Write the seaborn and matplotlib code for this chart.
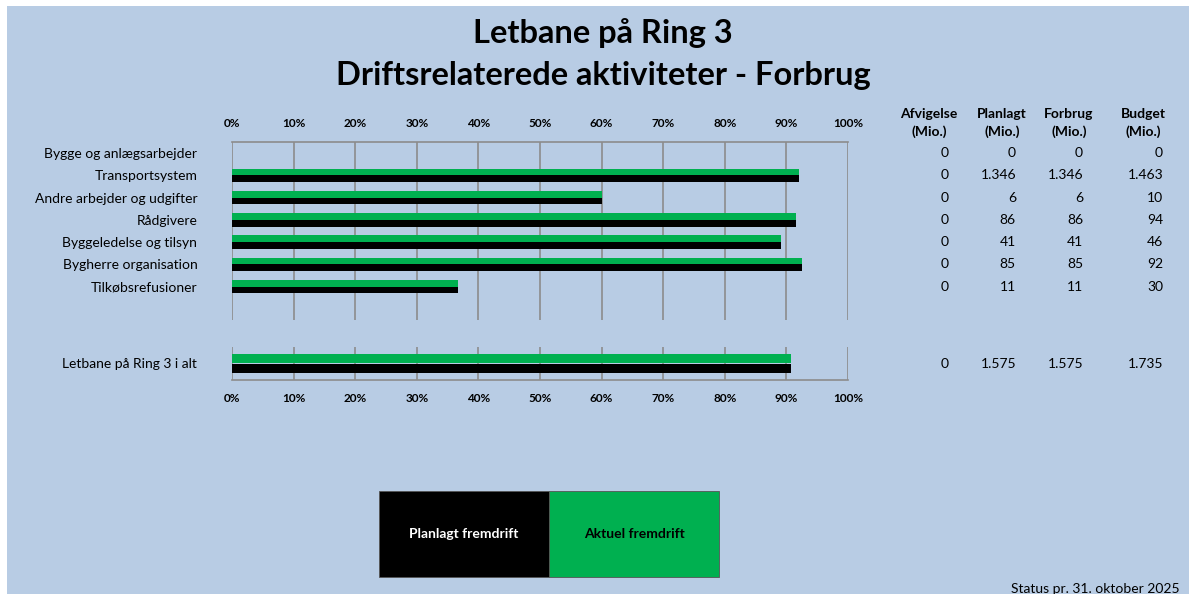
import numpy as np
import pandas as pd
import matplotlib
matplotlib.use("Agg")
import matplotlib.pyplot as plt
import matplotlib.transforms as mtransforms
from matplotlib.patches import Rectangle
import seaborn as sns

# Data
categories = [
    "Bygge og anlægsarbejder",
    "Transportsystem",
    "Andre arbejder og udgifter",
    "Rådgivere",
    "Byggeledelse og tilsyn",
    "Bygherre organisation",
    "Tilkøbsrefusioner",
]
planlagt_pct = [0, 92.0, 60.0, 91.5, 89.2, 92.5, 36.7]
aktuel_pct = [0, 92.0, 60.0, 91.5, 89.2, 92.5, 36.7]

total_label = ["Letbane på Ring 3 i alt"]
total_planlagt_pct = [90.8]
total_aktuel_pct = [90.8]

afvigelse = [0, 0, 0, 0, 0, 0, 0]
planlagt_mio = [0, 1346, 6, 86, 41, 85, 11]
forbrug_mio = [0, 1346, 6, 86, 41, 85, 11]
budget_mio = [0, 1463, 10, 94, 46, 92, 30]
total_row = [0, 1575, 1575, 1735]

col_headers = ["Afvigelse\n(Mio.)", "Planlagt\n(Mio.)", "Forbrug\n(Mio.)", "Budget\n(Mio.)"]
x_ticks = [0, 10, 20, 30, 40, 50, 60, 70, 80, 90, 100]

BG = "#b8cce4"
GREEN = "#00b050"
GRID = "#8c8c8c"

sns.set_theme(style="white")
plt.rcParams["font.family"] = ["Lato", "DejaVu Sans"]
plt.rcParams["text.color"] = "black"


def fmt(v):
    return f"{v:,}".replace(",", ".")


def long_df(labels, akt, plan):
    return pd.DataFrame({
        "kategori": labels * 2,
        "pct": list(akt) + list(plan),
        "serie": ["Aktuel fremdrift"] * len(labels) + ["Planlagt fremdrift"] * len(labels),
    })


fig = plt.figure(figsize=(11.89, 5.94), dpi=100, facecolor="white")
fig.patches.append(Rectangle((7 / 1189, 0), 1 - 7 / 1189, 1 - 6 / 594,
                             transform=fig.transFigure, facecolor=BG, edgecolor="none", zorder=-10))

ax1 = fig.add_axes([232 / 1189, 1 - 320 / 594, 616 / 1189, 178 / 594])
ax2 = fig.add_axes([232 / 1189, 1 - 380 / 594, 616 / 1189, 33 / 594])

palette = {"Aktuel fremdrift": GREEN, "Planlagt fremdrift": "black"}
order = ["Aktuel fremdrift", "Planlagt fremdrift"]

sns.barplot(data=long_df(categories, aktuel_pct, planlagt_pct), x="pct", y="kategori",
            hue="serie", hue_order=order, palette=palette, orient="h", width=0.6,
            saturation=1, legend=False, ax=ax1, zorder=3, linewidth=0)
sns.barplot(data=long_df(total_label, total_aktuel_pct, total_planlagt_pct), x="pct", y="kategori",
            hue="serie", hue_order=order, palette=palette, orient="h", width=0.58,
            saturation=1, legend=False, ax=ax2, zorder=3, linewidth=0)

ax1.set_ylim(len(categories) + 0.5, -0.5)
ax2.set_ylim(0.5, -0.5)

for ax in (ax1, ax2):
    ax.set_facecolor("none")
    ax.set_xlim(0, 100)
    ax.set_xticks(x_ticks)
    ax.set_xticklabels([f"{t}%" for t in x_ticks], fontsize=8.5, fontweight="bold", color="black")
    ax.set_xlabel("")
    ax.set_ylabel("")
    ax.grid(axis="x", color=GRID, linewidth=1.2, zorder=0)
    ax.grid(axis="y", visible=False)
    ax.tick_params(axis="both", length=0)
    ax.tick_params(axis="y", pad=25, labelsize=10, labelcolor="black")
    ax.tick_params(axis="x", pad=9)
    for s in ax.spines.values():
        s.set_visible(False)

ax1.xaxis.tick_top()
ax1.spines["top"].set_visible(True)
ax1.spines["top"].set_color(GRID)
ax1.spines["top"].set_linewidth(1.2)
ax2.spines["bottom"].set_visible(True)
ax2.spines["bottom"].set_color(GRID)
ax2.spines["bottom"].set_linewidth(1.2)

# Title
fig.text(603 / 1189, 1 - 33 / 594, "Letbane på Ring 3", ha="center", va="center",
         fontsize=23.5, fontweight="bold", color="black")
fig.text(603 / 1189, 1 - 76 / 594, "Driftsrelaterede aktiviteter - Forbrug", ha="center", va="center",
         fontsize=23.5, fontweight="bold", color="black")

# Table to the right
header_x = [929, 1002, 1069, 1143]
value_right_x = [949, 1016, 1083, 1163]
for hx, h in zip(header_x, col_headers):
    fig.text(hx / 1189, 1 - 123 / 594, h, ha="center", va="center", fontsize=10,
             fontweight="bold", linespacing=1.55)

cols = [afvigelse, planlagt_mio, forbrug_mio, budget_mio]
trans1 = mtransforms.blended_transform_factory(fig.transFigure, ax1.transData)
for j, col in enumerate(cols):
    for i, v in enumerate(col):
        fig.text(value_right_x[j] / 1189, i, fmt(v), transform=trans1,
                 ha="right", va="center", fontsize=10)
trans2 = mtransforms.blended_transform_factory(fig.transFigure, ax2.transData)
for j, v in enumerate(total_row):
    fig.text(value_right_x[j] / 1189, 0, fmt(v), transform=trans2,
             ha="right", va="center", fontsize=10)

# Legend boxes
box_w = 170 / 1189
box_h = 86 / 594
box_y = 1 - 577 / 594
for k, (lab, fc, tc) in enumerate([("Planlagt fremdrift", "black", "white"),
                                   ("Aktuel fremdrift", GREEN, "black")]):
    x0 = 379 / 1189 + k * box_w
    fig.patches.append(Rectangle((x0, box_y), box_w, box_h, transform=fig.transFigure,
                                 facecolor=fc, edgecolor="#555555", linewidth=0.6))
    fig.text(x0 + box_w / 2, box_y + box_h / 2, lab, ha="center", va="center",
             fontsize=10, fontweight="bold", color=tc)

fig.text(1180 / 1189, 1 - 589 / 594, "Status pr. 31. oktober 2025", ha="right", va="center",
         fontsize=10)

fig.savefig("out.png", dpi=100, facecolor=fig.get_facecolor())
